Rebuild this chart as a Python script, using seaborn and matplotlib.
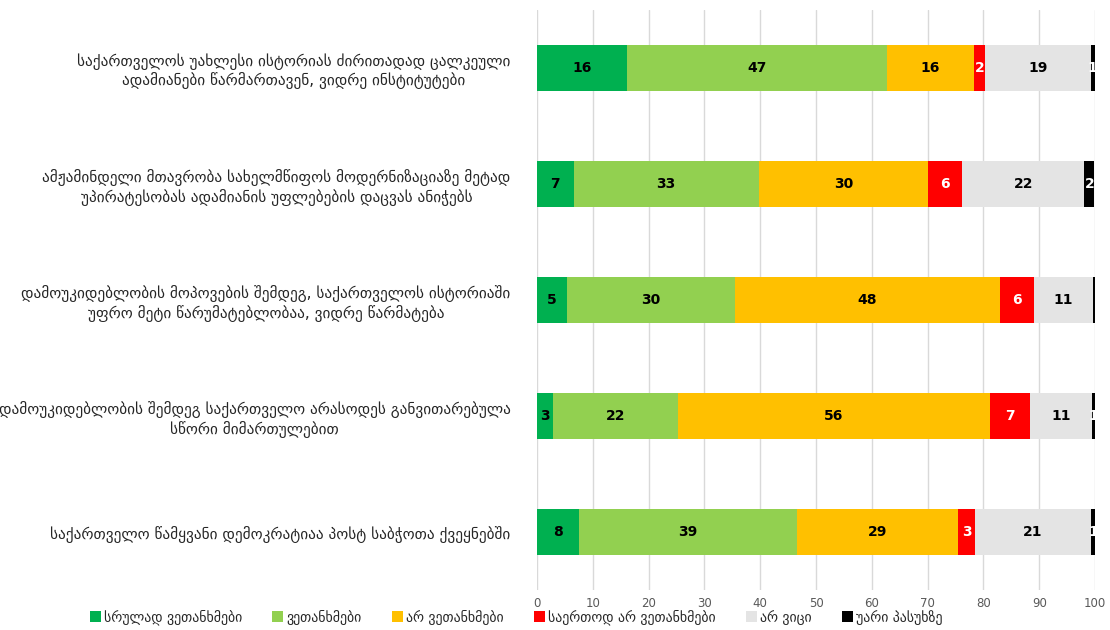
import numpy as np
import pandas as pd
import matplotlib.pyplot as plt
import seaborn as sns
from matplotlib.patches import Patch

sns.set_theme(style="white")
plt.rcParams['font.family'] = ['DejaVu Sans']

statements = [
    "საქართველოს უახლესი ისტორიას ძირითადად ცალკეული\nადამიანები წარმართავენ, ვიდრე ინსტიტუტები",
    "ამჟამინდელი მთავრობა სახელმწიფოს მოდერნიზაციაზე მეტად\nუპირატესობას ადამიანის უფლებების დაცვას ანიჭებს",
    "დამოუკიდებლობის მოპოვების შემდეგ, საქართველოს ისტორიაში\nუფრო მეტი წარუმატებლობაა, ვიდრე წარმატება",
    "დამოუკიდებლობის შემდეგ საქართველო არასოდეს განვითარებულა\nსწორი მიმართულებით",
    "საქართველო წამყვანი დემოკრატიაა პოსტ საბჭოთა ქვეყნებში",
]
answers = ["სრულად ვეთანხმები", "ვეთანხმები", "არ ვეთანხმები",
           "საერთოდ არ ვეთანხმები", "არ ვიცი", "უარი პასუხზე"]
colors = ["#00b050", "#92d050", "#ffc000", "#ff0000", "#e4e4e4", "#000000"]
text_colors = ["black", "black", "black", "white", "black", "white"]

fully_agree = [16.1, 6.6, 5.4, 2.8, 7.5]
agree = [46.6, 33.1, 30.0, 22.4, 39.1]
disagree = [15.6, 30.4, 47.6, 55.9, 28.9]
fully_disagree = [2.0, 6.1, 6.0, 7.2, 3.0]
dont_know = [18.9, 21.9, 10.7, 11.1, 20.8]
refused = [0.8, 1.8, 0.3, 0.6, 0.7]

series = [fully_agree, agree, disagree, fully_disagree, dont_know, refused]
vals = np.array(series)
cum = vals.cumsum(axis=0)

fig = plt.figure(figsize=(11.1, 6.3), dpi=100)
ax = fig.add_axes([0.4838, 0.0635, 0.5027, 0.9205])

# stacked bars: draw cumulative totals from the back to the front
for i in range(len(answers) - 1, -1, -1):
    df = pd.DataFrame({'statement': statements, 'value': cum[i]})
    sns.barplot(data=df, x='value', y='statement', color=colors[i], width=0.4,
                saturation=1, ax=ax, zorder=2, edgecolor='none')

for i in range(len(answers)):
    for j in range(len(statements)):
        v = vals[i, j]
        if v < 0.5:
            continue
        ax.text(cum[i, j] - v / 2, j, '%.0f' % v, ha='center', va='center',
                fontsize=10, fontweight='bold', color=text_colors[i], zorder=5)

ax.set_xlim(0, 100)
ax.set_ylim(4.5, -0.5)
ax.set_xticks(range(0, 101, 10))
ax.tick_params(axis='x', labelsize=8.5, labelcolor='#595959', length=0, pad=5)
ax.tick_params(axis='y', labelsize=11, length=0, pad=19)
for t in ax.get_yticklabels():
    t.set_multialignment('center')
ax.set_xlabel('')
ax.set_ylabel('')
ax.xaxis.grid(True, color='#d9d9d9', lw=1, zorder=0)
ax.set_axisbelow(True)
for s in ax.spines.values():
    s.set_visible(False)

handles = [Patch(facecolor=c, edgecolor='none', label=a) for a, c in zip(answers, colors)]
fig.legend(handles=handles, loc='lower center', bbox_to_anchor=(0.465, -0.012), ncol=6,
           frameon=False, fontsize=10, handlelength=0.8, handleheight=0.8,
           handletextpad=0.2, columnspacing=2.2)

fig.savefig('out.png', dpi=100)
